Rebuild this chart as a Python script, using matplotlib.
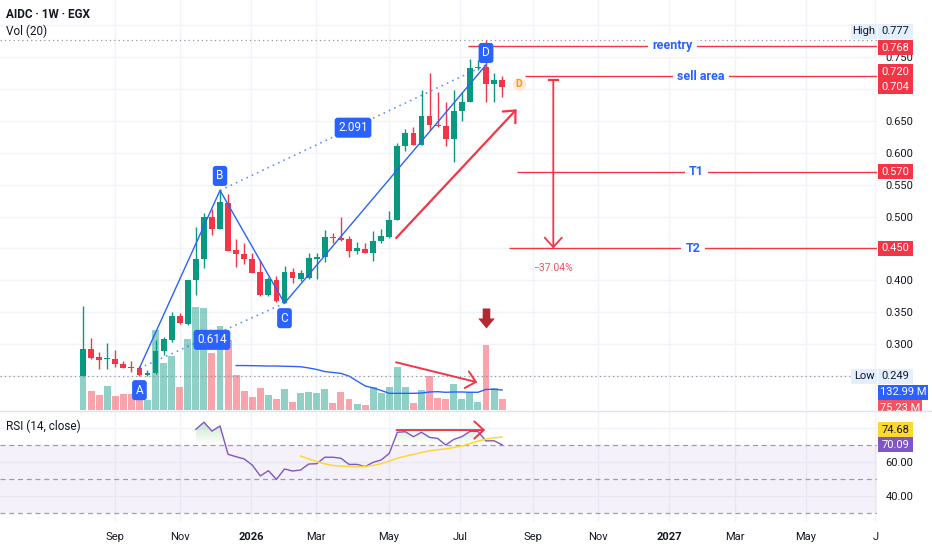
import numpy as np
import matplotlib
matplotlib.use("Agg")
import matplotlib.pyplot as plt
from matplotlib.transforms import blended_transform_factory
from matplotlib.path import Path
from matplotlib.patches import Rectangle
from matplotlib.colors import LinearSegmentedColormap

plt.rcParams['font.family'] = ['Roboto', 'DejaVu Sans']

# ------------------------------------------------------------------ data
opens = [0.249, 0.292, 0.279, 0.277, 0.277, 0.268, 0.264, 0.262, 0.251, 0.254,
         0.289, 0.306, 0.344, 0.332, 0.400, 0.433, 0.499, 0.480, 0.522, 0.447,
         0.441, 0.434, 0.413, 0.377, 0.401, 0.365, 0.413, 0.402, 0.404, 0.434,
         0.436, 0.468, 0.467, 0.465, 0.446, 0.449, 0.443, 0.462, 0.468, 0.494,
         0.611, 0.631, 0.612, 0.658, 0.643, 0.642, 0.622, 0.665, 0.680, 0.733,
         0.735, 0.708, 0.714]
highs = [0.359, 0.310, 0.288, 0.301, 0.290, 0.274, 0.274, 0.265, 0.259, 0.306,
         0.311, 0.350, 0.349, 0.401, 0.484, 0.505, 0.512, 0.541, 0.535, 0.464,
         0.459, 0.443, 0.432, 0.405, 0.407, 0.422, 0.420, 0.416, 0.442, 0.443,
         0.479, 0.474, 0.500, 0.469, 0.460, 0.458, 0.477, 0.481, 0.508, 0.615,
         0.637, 0.640, 0.699, 0.725, 0.696, 0.680, 0.699, 0.696, 0.748, 0.745,
         0.777, 0.725, 0.720]
lows = [0.249, 0.277, 0.260, 0.260, 0.264, 0.262, 0.256, 0.250, 0.250, 0.253,
        0.282, 0.303, 0.331, 0.330, 0.377, 0.420, 0.471, 0.480, 0.446, 0.421,
        0.425, 0.411, 0.375, 0.376, 0.366, 0.364, 0.396, 0.399, 0.402, 0.402,
        0.429, 0.458, 0.462, 0.437, 0.441, 0.443, 0.431, 0.458, 0.466, 0.494,
        0.603, 0.612, 0.612, 0.636, 0.641, 0.610, 0.586, 0.650, 0.680, 0.730,
        0.680, 0.680, 0.688]
closes = [0.292, 0.278, 0.275, 0.278, 0.268, 0.263, 0.262, 0.251, 0.254, 0.289,
          0.307, 0.344, 0.333, 0.401, 0.434, 0.499, 0.480, 0.523, 0.446, 0.441,
          0.433, 0.412, 0.377, 0.402, 0.368, 0.413, 0.404, 0.411, 0.435, 0.437,
          0.468, 0.466, 0.463, 0.446, 0.450, 0.443, 0.462, 0.469, 0.494, 0.611,
          0.631, 0.612, 0.658, 0.643, 0.642, 0.622, 0.666, 0.680, 0.733, 0.735,
          0.708, 0.714, 0.704]
volumes_m = [273, 129, 100, 158, 93, 107, 107, 107, 65, 533,
             315, 360, 151, 471, 684, 677, 378, 559, 466, 233,
             129, 89, 145, 100, 71, 138, 50, 111, 118, 111,
             138, 45, 118, 71, 40, 31, 155, 111, 151, 288,
             151, 45, 133, 226, 82, 71, 171, 71, 122, 51,
             433, 145, 75.23]
vol_ma_start = 19
vol_ma_m = [296, 296, 295, 294, 293, 293, 291, 290, 288, 280,
            270, 256, 250, 244, 226, 193, 160, 147, 130, 111,
            111, 111, 111, 113, 120, 122, 118, 120, 120, 118,
            118, 137, 138, 132.99]
rsi_start = 14
rsi = [79.2, 83.4, 78.2, 81.2, 64.5, 63.1, 61.8, 58.2, 51.8, 54.9,
       49.8, 55.9, 54.7, 55.3, 58.8, 59.0, 62.8, 62.8, 62.2, 58.6,
       58.6, 57.3, 59.8, 61.2, 65.1, 77.5, 77.8, 74.9, 77.5, 74.5,
       73.9, 70.0, 73.3, 74.9, 78.0, 78.0, 72.4, 72.5, 70.09]
rsi_ma_start = 27
rsi_ma = [63.5, 61.8, 60.2, 58.9, 57.9, 57.6, 57.5, 57.4, 57.3, 58.0,
          59.0, 60.5, 62.2, 63.4, 64.5, 65.6, 66.6, 67.2, 67.7, 68.5,
          69.4, 70.8, 72.3, 73.5, 74.2, 74.68]

time_ticks = [3.97, 12.03, 20.84, 28.9, 37.97, 46.8, 55.8, 63.9, 72.7, 80.9, 89.7, 98.3]
time_labels = ['Sep', 'Nov', '2026', 'Mar', 'May', 'Jul', 'Sep', 'Nov', '2027', 'Mar', 'May', 'J']
price_ticks = [0.25, 0.30, 0.35, 0.40, 0.45, 0.50, 0.55, 0.60, 0.65, 0.70, 0.75, 0.80]
price_ticks_hidden = [0.25, 0.45, 0.70, 0.80]
rsi_ticks = [40, 60, 80]
rsi_ticks_hidden = [80]

level_names = ['reentry', 'sell area', 'T1', 'T2']
level_values = [0.768, 0.720, 0.570, 0.450]
level_starts = [47.8, 54.8, 53.8, 52.9]
level_text_x = [73.2, 76.7, 76.1, 75.7]

abcd_names = ['A', 'B', 'C', 'D']
abcd_x = [7, 17, 25, 50]
abcd_y = [0.262, 0.541, 0.364, 0.738]
abcd_ratios = ['0.614', '2.091']

price_high, price_low = 0.777, 0.249
range_top, range_bottom, range_x = 0.7147, 0.450, 58.35

# ------------------------------------------------------------------ layout
W, H = 932, 550
fig = plt.figure(figsize=(W / 100, H / 100), dpi=100)
fig.patch.set_facecolor('white')

def fx(px):
    return px / W

def fy(py):
    return 1 - py / H

PANE_R = 877
MAIN_B = 410
RSI_T, RSI_B = 411, 522
BAR_PX = 8.06

GREEN = '#089981'
RED = '#f23645'
BLUE = '#2962ff'
TXT = '#131722'
GRID = '#f0f3fa'

rect_main = [0, fy(MAIN_B), fx(PANE_R), MAIN_B / H]
ax_vol = fig.add_axes(rect_main, zorder=1)
ax = fig.add_axes(rect_main, zorder=2)
ax_rsi = fig.add_axes([0, fy(RSI_B), fx(PANE_R), (RSI_B - RSI_T) / H], zorder=1)

xl = (-83 / BAR_PX, (PANE_R - 83) / BAR_PX)
for a in (ax_vol, ax, ax_rsi):
    a.set_xlim(*xl)
    for s in a.spines.values():
        s.set_visible(False)
    a.set_xticks([])
ax.patch.set_visible(False)
ax_vol.set_yticks([])
ax.set_ylim(0.65 - (MAIN_B - 121) / 637, 0.65 + 121 / 637)
ax_vol.set_ylim(0, MAIN_B * 6.66)
ax_rsi.set_ylim(70 - (RSI_B - 445) / 1.7, 70 + (445 - RSI_T) / 1.7)

# grid
tr_grid = blended_transform_factory(ax_vol.transAxes, ax.transData)
for p in price_ticks:
    ax_vol.plot([0, 1], [p, p], transform=tr_grid, color=GRID, lw=1, zorder=0)
for t in time_ticks:
    ax_vol.axvline(t, color=GRID, lw=1, zorder=0)
    ax_rsi.axvline(t, color=GRID, lw=1, zorder=0)

# price axis labels
ax.yaxis.tick_right()
ax.set_yticks(price_ticks)
ax.set_yticklabels(['' if p in price_ticks_hidden else f'{p:.3f}' for p in price_ticks])
ax.tick_params(axis='y', length=0, pad=6, labelsize=8, labelcolor=TXT)

# ------------------------------------------------------------------ volume
idx = np.arange(len(closes))
o = np.array(opens); c = np.array(closes)
up = c >= o
vcols = [(8/255, 153/255, 129/255, 0.45) if u else (242/255, 54/255, 69/255, 0.45) for u in up]
ax_vol.bar(idx, volumes_m, width=0.86, color=vcols, zorder=2)
ax_vol.plot(np.arange(vol_ma_start, vol_ma_start + len(vol_ma_m)), vol_ma_m,
            color=BLUE, lw=1, zorder=3)

# ------------------------------------------------------------------ candles
ccols = [GREEN if u else RED for u in up]
ax.vlines(idx, lows, highs, colors=ccols, lw=1, zorder=3)
body_lo = np.minimum(o, c)
body_h = np.maximum(np.abs(c - o), 0.0017)
ax.bar(idx, body_h, bottom=body_lo, width=0.72, color=ccols, zorder=4)

# high / low dotted lines
for v in (price_high, price_low):
    ax.axhline(v, color='#9598a1', lw=0.9, ls=(0, (1, 2.5)), zorder=2)

# ------------------------------------------------------------------ ABCD pattern
ax.plot(abcd_x, abcd_y, color=BLUE, lw=1, zorder=5)
ax.plot([abcd_x[0], abcd_x[2]], [abcd_y[0], abcd_y[2]], color=BLUE, lw=1.2,
        ls=(0, (1, 2.5)), alpha=0.7, zorder=5)
ax.plot([abcd_x[1], abcd_x[3]], [abcd_y[1], abcd_y[3]], color=BLUE, lw=1.2,
        ls=(0, (1, 2.5)), alpha=0.7, zorder=5)

lab_box = dict(boxstyle='round,pad=0.3,rounding_size=0.25', fc=BLUE, ec='none')
label_offsets_px = [-22, 14.5, -15, 12]
for name, x, y, d in zip(abcd_names, abcd_x, abcd_y, label_offsets_px):
    ax.annotate(name, (x, y), xytext=(0, d * 0.72), textcoords='offset points',
                ha='center', va='center', color='white', fontsize=8.5,
                bbox=lab_box, zorder=8)
ax.annotate(abcd_ratios[0], ((abcd_x[0] + abcd_x[2]) / 2, (abcd_y[0] + abcd_y[2]) / 2),
            xytext=(0, -3), textcoords='offset points', ha='center', va='center',
            color='white', fontsize=8.5, bbox=lab_box, zorder=8)
ax.annotate(abcd_ratios[1], ((abcd_x[1] + abcd_x[3]) / 2, (abcd_y[1] + abcd_y[3]) / 2),
            xytext=(0, 0), textcoords='offset points', ha='center', va='center',
            color='white', fontsize=8.5, bbox=lab_box, zorder=8)

# ------------------------------------------------------------------ levels
for name, v, x0, tx in zip(level_names, level_values, level_starts, level_text_x):
    ax.hlines(v, x0, 200, color=RED, lw=1, zorder=5)
    ax.text(tx, v, name, ha='center', va='center', color=BLUE, fontsize=9,
            weight='bold', zorder=6,
            bbox=dict(boxstyle='square,pad=0.35', fc='white', ec='none'))

# ------------------------------------------------------------------ red arrows
def red_arrow(a, tail, tip, lw=1.4):
    a.annotate('', xy=tip, xytext=tail,
               arrowprops=dict(arrowstyle='->,head_length=0.68,head_width=0.62',
                               color=RED, lw=lw, mutation_scale=10,
                               shrinkA=0, shrinkB=0), zorder=7)

red_arrow(ax, (38.85, 0.4663), (53.8, 0.6684), lw=1.6)
red_arrow(ax, (38.85, 0.2712), (48.92, 0.2398), lw=1.4)
red_arrow(ax_rsi, (38.9, 78.8), (49.9, 78.8), lw=1.4)
red_arrow(ax, (range_x, range_top), (range_x, range_bottom), lw=1.3)
ax.plot([range_x - 0.55, range_x + 0.55], [range_top, range_top], color=RED, lw=1.6, zorder=7)
pct = (range_bottom / range_top - 1) * 100
ax.annotate(f'\u2212{abs(pct):.2f}%', (range_x, range_bottom), xytext=(0, -14),
            textcoords='offset points', ha='center', va='center',
            color='#f7525f', fontsize=7.5, zorder=7)

# dividend event marker
ax.plot(54.1, 0.7076, 'o', ms=9.5, mfc='#fde8dc', mec='none', zorder=6)
ax.text(54.1, 0.7076, 'D', ha='center', va='center', color='#ff9800',
        fontsize=7.5, weight='bold', zorder=7)

# down arrow over the volume spike
arrow_verts = [(-3.8, 10), (3.8, 10), (3.8, 0), (8.3, 0), (0, -10), (-8.3, 0), (-3.8, 0), (-3.8, 10)]
arrow_codes = [Path.MOVETO] + [Path.LINETO] * 6 + [Path.CLOSEPOLY]
down_marker = Path(arrow_verts, arrow_codes)
ax.plot(50, 0.3407, marker=down_marker, ms=14.4, color='#b22833', mec='none',
        ls='none', zorder=7)

# ------------------------------------------------------------------ RSI pane
ax_rsi.axhspan(30, 70, color='#7e57c2', alpha=0.08, lw=0, zorder=0.5)
for lv in rsi_ticks:
    ax_rsi.axhline(lv, color=GRID, lw=1, zorder=0.4)
for lv in (70, 50, 30):
    ax_rsi.axhline(lv, color='#787b86', lw=0.9, ls=(0, (4, 3)), alpha=0.7, zorder=1)

rx = np.arange(rsi_start, rsi_start + len(rsi))
ra = np.array(rsi)
fb = ax_rsi.fill_between(rx, 70, ra, where=ra >= 70, interpolate=True,
                         facecolor='none', edgecolor='none')
paths = fb.get_paths()
if len(paths):
    cp = Path.make_compound_path(*paths)
    cmap = LinearSegmentedColormap.from_list(
        'ob', [(0.30, 0.69, 0.31, 0.0), (0.30, 0.69, 0.31, 0.32)])
    im = ax_rsi.imshow(np.linspace(0, 1, 64).reshape(-1, 1), cmap=cmap, aspect='auto',
                       origin='lower', extent=(rx[0], rx[-1], 70, 84), zorder=1.5,
                       interpolation='bilinear')
    im.set_clip_path(cp, transform=ax_rsi.transData)
ax_rsi.set_xlim(*xl)
ax_rsi.set_ylim(70 - (RSI_B - 445) / 1.7, 70 + (445 - RSI_T) / 1.7)

ax_rsi.plot(rx, rsi, color='#7e57c2', lw=1, zorder=3)
ax_rsi.plot(np.arange(rsi_ma_start, rsi_ma_start + len(rsi_ma)), rsi_ma,
            color='#fdd835', lw=1.1, zorder=3)

ax_rsi.yaxis.tick_right()
ax_rsi.set_yticks(rsi_ticks)
ax_rsi.set_yticklabels(['' if v in rsi_ticks_hidden else f'{v:.2f}' for v in rsi_ticks])
ax_rsi.tick_params(axis='y', length=0, pad=6, labelsize=8, labelcolor=TXT)
ax_rsi.set_xticks(time_ticks)
ax_rsi.set_xticklabels(time_labels)
ax_rsi.tick_params(axis='x', length=0, pad=7, labelsize=8, labelcolor=TXT)
for tl in ax_rsi.get_xticklabels():
    if tl.get_text() in ('2026', '2027'):
        tl.set_fontweight('bold')

# ------------------------------------------------------------------ texts
fig.text(fx(6), fy(15), 'AIDC \u00b7 1W \u00b7 EGX', fontsize=8.5, weight='bold',
         color=TXT, va='center', ha='left')
fig.text(fx(6), fy(31), 'Vol (20)', fontsize=8.5, color=TXT, va='center', ha='left')
fig.text(fx(6), fy(426), 'RSI (14, close)', fontsize=8.5, color=TXT, va='center', ha='left')

# pane separator
fig.add_artist(plt.Line2D([0, 1], [fy(410.5), fy(410.5)], transform=fig.transFigure,
                          color='#e0e3eb', lw=1, zorder=4))

# ------------------------------------------------------------------ price-scale labels
def ypix(a, v):
    return H - a.transData.transform((0, v))[1]

def scale_box(y_px, text, fc, tc, x0=878, w=35, h=15, z=5):
    fig.add_artist(Rectangle((fx(x0), fy(y_px + h / 2)), w / W, h / H,
                             transform=fig.transFigure, fc=fc, ec='none', zorder=z))
    fig.text(fx(x0 + w / 2), fy(y_px), text, ha='center', va='center', color=tc,
             fontsize=8, zorder=z + 0.5)

LIGHT = '#e3effd'
scale_box(ypix(ax, price_high) - 9, 'High', LIGHT, TXT, x0=851, w=26)
scale_box(ypix(ax, price_high) - 9, f'{price_high:.3f}', LIGHT, TXT)
scale_box(ypix(ax, price_low), 'Low', LIGHT, TXT, x0=851, w=26)
scale_box(ypix(ax, price_low), f'{price_low:.3f}', LIGHT, TXT)
scale_box(ypix(ax, level_values[0]) + 2, f'{level_values[0]:.3f}', RED, 'white')
scale_box(ypix(ax, level_values[1]) - 4.5, f'{level_values[1]:.3f}', RED, 'white')
scale_box(ypix(ax, closes[-1]), f'{closes[-1]:.3f}', RED, 'white')
scale_box(ypix(ax, level_values[2]), f'{level_values[2]:.3f}', RED, 'white')
scale_box(ypix(ax, level_values[3]), f'{level_values[3]:.3f}', RED, 'white')
scale_box(ypix(ax_vol, vol_ma_m[-1]) + 2, f'{vol_ma_m[-1]:.2f} M', BLUE, 'white', w=50)
scale_box(ypix(ax_vol, volumes_m[-1]) + 9, f'{volumes_m[-1]:.2f} M', '#f7525f', 'white', w=44)
# cover part of the volume label that falls into the RSI pane
fig.add_artist(Rectangle((fx(PANE_R), fy(421)), (W - PANE_R) / W, 10 / H,
                         transform=fig.transFigure, fc='white', ec='none', zorder=6))
fig.add_artist(plt.Line2D([fx(PANE_R), 1], [fy(410.5), fy(410.5)], transform=fig.transFigure,
                          color='#e0e3eb', lw=1, zorder=6.5))
scale_box(ypix(ax_rsi, rsi_ma[-1]) - 7.5, f'{rsi_ma[-1]:.2f}', '#fdd835', TXT, z=7)
scale_box(ypix(ax_rsi, rsi[-1]), f'{rsi[-1]:.2f}', '#7e57c2', 'white', z=7)

fig.savefig('out.png', dpi=100, facecolor='white')
